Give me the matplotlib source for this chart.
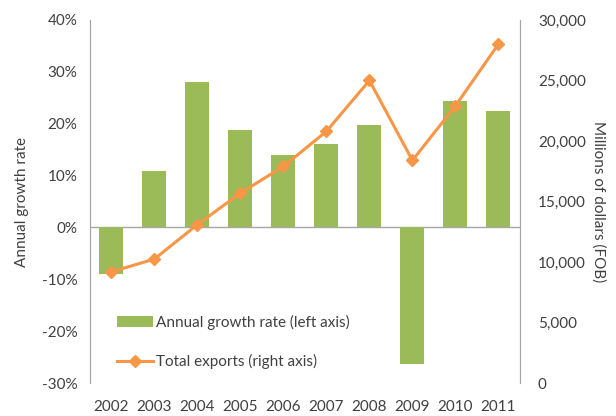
import numpy as np
import matplotlib.pyplot as plt
from matplotlib.ticker import FuncFormatter

years = ['2002', '2003', '2004', '2005', '2006', '2007', '2008', '2009', '2010', '2011']
growth = [-9.0, 10.9, 28.1, 18.8, 13.9, 16.1, 19.8, -26.4, 24.3, 22.4]
exports = [9200, 10250, 13100, 15700, 17900, 20800, 25000, 18400, 22900, 28000]

green = '#9bbb59'
orange = '#f79646'
grey = '#a6a6a6'
txt = '#404040'

plt.rcParams['font.family'] = ['Lato', 'DejaVu Sans']

fig = plt.figure(figsize=(6.16, 4.16), dpi=100)
ax = fig.add_axes([0.146, 0.079, 0.698, 0.873])
ax2 = ax.twinx()

x = np.arange(len(years))
bars = ax.bar(x, growth, width=0.56, color=green, zorder=2,
              label='Annual growth rate (left axis)')
line, = ax2.plot(x, exports, color=orange, lw=2.2, marker='D', ms=6,
                 label='Total exports (right axis)')

ax.set_xlim(-0.5, len(years) - 0.5)
ax.set_ylim(-30, 40)
ax.set_yticks(np.arange(-30, 41, 10))
ax.yaxis.set_major_formatter(FuncFormatter(lambda v, p: f'{v:.0f}%'))
ax2.set_ylim(0, 30000)
ax2.set_yticks(np.arange(0, 30001, 5000))
ax2.yaxis.set_major_formatter(FuncFormatter(lambda v, p: f'{v:,.0f}'))

ax.axhline(0, color=grey, lw=1, zorder=1)

for a in (ax, ax2):
    a.spines['top'].set_visible(False)
    a.spines['bottom'].set_visible(False)
    a.spines['left'].set_color(grey)
    a.spines['right'].set_color(grey)
    a.tick_params(length=0, labelsize=11, colors=txt)

ax.set_xticks(x)
ax.set_xticklabels(years)
ax.tick_params(axis='x', pad=12)
ax.tick_params(axis='y', pad=9)
ax2.tick_params(axis='y', pad=13)

ax.set_ylabel('Annual growth rate', fontsize=11, color=txt, labelpad=9)
ax2.set_ylabel('Millions of dollars (FOB)', fontsize=11, color=txt,
               rotation=-90, labelpad=14)

ax.legend([bars, line], [bars.get_label(), line.get_label()],
          loc='lower left', bbox_to_anchor=(0.03, 0.0), frameon=False,
          fontsize=11, labelcolor=txt, handlelength=2.4, handletextpad=0.2,
          labelspacing=1.6)

fig.savefig('out.png', dpi=100)
